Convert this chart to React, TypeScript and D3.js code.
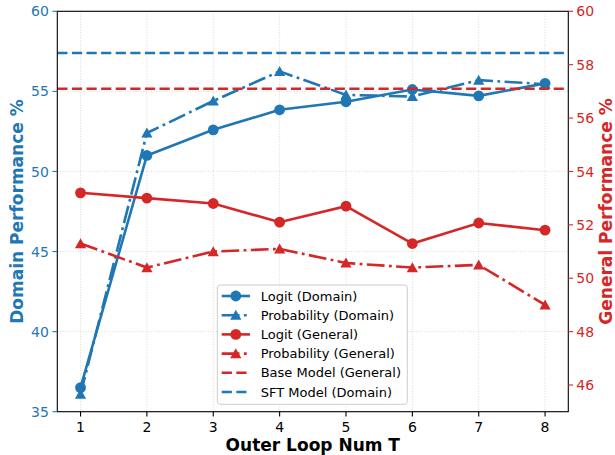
import React from "react";
import * as d3 from "d3";

const xs = [1, 2, 3, 4, 5, 6, 7, 8];
const logitDomain = [36.5, 51.0, 52.6, 53.85, 54.35, 55.12, 54.72, 55.5];
const probDomain = [36.1, 52.4, 54.4, 56.25, 54.78, 54.68, 55.7, 55.45];
const logitGeneral = [53.2, 53.0, 52.8, 52.1, 52.7, 51.3, 52.07, 51.8];
const probGeneral = [51.3, 50.4, 51.0, 51.1, 50.57, 50.4, 50.5, 49.0];
const sftDomain = 57.4;
const baseGeneral = 57.1;
const leftTicks = [35, 40, 45, 50, 55, 60];
const rightTicks = [46, 48, 50, 52, 54, 56, 58, 60];
const legendLabels = [
  "Logit (Domain)",
  "Probability (Domain)",
  "Logit (General)",
  "Probability (General)",
  "Base Model (General)",
  "SFT Model (Domain)",
];

const BLUE = "#1f77b4";
const RED = "#d62728";
const FONT = "DejaVu Sans";
const LW = 2.6;
const DASH = "10.2,4.4";
const DASHDOT = "17.8,4.4,2.8,4.4";

const L = 57.3, R = 568.3, T = 11.3, B = 411.7;

export default function App() {
  const x = d3.scaleLinear().domain([0.65, 8.35]).range([L, R]);
  const yL = d3.scaleLinear().domain([35, 60]).range([B, T]);
  const yR = d3.scaleLinear().domain([45, 60]).range([B, T]);

  const lineL = d3.line<number>().x((_, i) => x(xs[i])).y((d) => yL(d));
  const lineR = d3.line<number>().x((_, i) => x(xs[i])).y((d) => yR(d));

  const triangle = (cx: number, cy: number, color: string, key: any) => (
    <path key={key} d={`M${cx},${cy - 5.4}L${cx - 5.6},${cy + 4.6}L${cx + 5.6},${cy + 4.6}Z`} fill={color} />
  );

  const series = [
    { data: logitDomain, scale: yL, line: lineL, color: BLUE, dash: undefined, marker: "o" },
    { data: probDomain, scale: yL, line: lineL, color: BLUE, dash: DASHDOT, marker: "^" },
  ];
  const seriesR = [
    { data: logitGeneral, scale: yR, line: lineR, color: RED, dash: undefined, marker: "o" },
    { data: probGeneral, scale: yR, line: lineR, color: RED, dash: DASHDOT, marker: "^" },
  ];

  const drawSeries = (s: any, k: string) => (
    <g key={k}>
      <path d={s.line(s.data) as string} fill="none" stroke={s.color} strokeWidth={LW} strokeDasharray={s.dash} />
      {s.data.map((v: number, i: number) =>
        s.marker === "o" ? (
          <circle key={i} cx={x(xs[i])} cy={s.scale(v)} r={5.4} fill={s.color} />
        ) : (
          triangle(x(xs[i]), s.scale(v), s.color, i)
        )
      )}
    </g>
  );

  const legendItems = [
    { color: BLUE, dash: undefined, marker: "o" },
    { color: BLUE, dash: DASHDOT, marker: "^" },
    { color: RED, dash: undefined, marker: "o" },
    { color: RED, dash: DASHDOT, marker: "^" },
    { color: RED, dash: DASH, marker: "" },
    { color: BLUE, dash: DASH, marker: "" },
  ];

  return (
    <svg width={615} height={455} style={{ position: "absolute", left: 0, top: 0 }} fontFamily={FONT}>
      <rect width={615} height={455} fill="#fff" />
      {/* grid */}
      <g stroke="#d0d0d0" strokeWidth={0.8} strokeDasharray="1,1.6">
        {xs.map((v) => (
          <line key={"gx" + v} x1={x(v)} x2={x(v)} y1={T} y2={B} />
        ))}
        {leftTicks.map((v) => (
          <line key={"gy" + v} x1={L} x2={R} y1={yL(v)} y2={yL(v)} />
        ))}
      </g>
      <clipPath id="clip">
        <rect x={L} y={T} width={R - L} height={B - T} />
      </clipPath>
      <g clipPath="url(#clip)">
        {series.map((s, i) => drawSeries(s, "s" + i))}
        <line x1={L} x2={R} y1={yL(sftDomain)} y2={yL(sftDomain)} stroke={BLUE} strokeWidth={LW} strokeDasharray={DASH} />
        {seriesR.map((s, i) => drawSeries(s, "r" + i))}
        <line x1={L} x2={R} y1={yR(baseGeneral)} y2={yR(baseGeneral)} stroke={RED} strokeWidth={LW} strokeDasharray={DASH} />
      </g>
      {/* frame */}
      <rect x={L} y={T} width={R - L} height={B - T} fill="none" stroke="#000" strokeWidth={1.1} />
      {/* left axis */}
      {leftTicks.map((v) => (
        <g key={"lt" + v}>
          <line x1={L - 4.8} x2={L} y1={yL(v)} y2={yL(v)} stroke={BLUE} strokeWidth={1.1} />
          <text x={L - 8.5} y={yL(v)} dy="0.36em" textAnchor="end" fontSize={14} fill={BLUE}>
            {v}
          </text>
        </g>
      ))}
      {/* right axis */}
      {rightTicks.map((v) => (
        <g key={"rt" + v}>
          <line x1={R} x2={R + 4.8} y1={yR(v)} y2={yR(v)} stroke={RED} strokeWidth={1.1} />
          <text x={R + 8} y={yR(v)} dy="0.36em" textAnchor="start" fontSize={14} fill={RED}>
            {v}
          </text>
        </g>
      ))}
      {/* x axis */}
      {xs.map((v) => (
        <g key={"xt" + v}>
          <line x1={x(v)} x2={x(v)} y1={B} y2={B + 4.8} stroke="#000" strokeWidth={1.1} />
          <text x={x(v)} y={431.7} textAnchor="middle" fontSize={14} fill="#000">
            {v}
          </text>
        </g>
      ))}
      <text x={(L + R) / 2} y={450.5} textAnchor="middle" fontSize={17} fontWeight="bold" fill="#000">
        Outer Loop Num T
      </text>
      <text
        transform={`translate(22.5,${(T + B) / 2}) rotate(-90)`}
        textAnchor="middle"
        fontSize={17}
        fontWeight="bold"
        fill={BLUE}
      >
        Domain Performance %
      </text>
      <text
        transform={`translate(611.5,${(T + B) / 2}) rotate(-90)`}
        textAnchor="middle"
        fontSize={17}
        fontWeight="bold"
        fill={RED}
      >
        General Performance %
      </text>
      {/* legend */}
      <g>
        <rect x={217.3} y={285} width={190} height={119.3} rx={3} fill="#fff" fillOpacity={0.8} stroke="#cccccc" strokeWidth={1} />
        {legendLabels.map((lab, i) => {
          const cy = 296 + i * 19.2;
          const it = legendItems[i];
          return (
            <g key={"lg" + i}>
              <line x1={221.7} x2={250} y1={cy} y2={cy} stroke={it.color} strokeWidth={LW} strokeDasharray={it.dash} />
              {it.marker === "o" && <circle cx={235.8} cy={cy} r={5.4} fill={it.color} />}
              {it.marker === "^" && triangle(235.8, cy, it.color, "m")}
              <text x={260.7} y={cy} dy="0.36em" fontSize={13} fill="#000">
                {lab}
              </text>
            </g>
          );
        })}
      </g>
    </svg>
  );
}
